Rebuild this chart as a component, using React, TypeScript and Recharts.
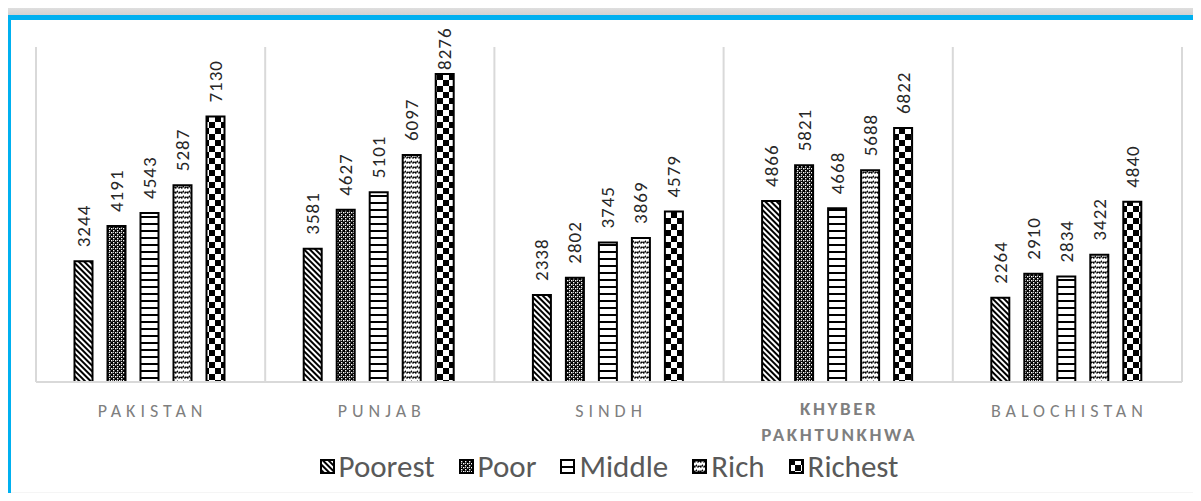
import React from 'react'
import { BarChart, Bar, XAxis, YAxis, CartesianGrid, Legend, LabelList } from 'recharts'

const regions = ['PAKISTAN', 'PUNJAB', 'SINDH', 'KHYBER PAKHTUNKHWA', 'BALOCHISTAN']
const poorest = [3244, 3581, 2338, 4866, 2264]
const poor = [4191, 4627, 2802, 5821, 2910]
const middle = [4543, 5101, 3745, 4668, 2834]
const rich = [5287, 6097, 3869, 5688, 3422]
const richest = [7130, 8276, 4579, 6822, 4840]

const seriesNames = ['Poorest', 'Poor', 'Middle', 'Rich', 'Richest']
const seriesKeys = ['poorest', 'poor', 'middle', 'rich', 'richest']

const data = regions.map((region, i) => ({
  region,
  poorest: poorest[i],
  poor: poor[i],
  middle: middle[i],
  rich: rich[i],
  richest: richest[i],
}))

const FONT = 'Carlito, Lato, "Open Sans", sans-serif'

function Patterns() {
  return (
    <defs>
      <pattern id="pat-poorest" width="4" height="4" patternUnits="userSpaceOnUse" patternTransform="rotate(-45)">
        <rect width="4" height="4" fill="#fff" />
        <rect width="2" height="4" fill="#000" />
      </pattern>
      <pattern id="pat-poor" width="4" height="4" patternUnits="userSpaceOnUse">
        <rect width="4" height="4" fill="#000" />
        <rect x="0" y="0" width="1.4" height="1.4" fill="#fff" />
        <rect x="2" y="2" width="1.4" height="1.4" fill="#fff" />
        <rect x="2" y="0" width="0.9" height="0.9" fill="#fff" />
      </pattern>
      <pattern id="pat-middle" width="8" height="7" patternUnits="userSpaceOnUse">
        <rect width="8" height="7" fill="#fff" />
        <rect width="8" height="2" fill="#000" />
      </pattern>
      <pattern id="pat-rich" width="6" height="5" patternUnits="userSpaceOnUse">
        <rect width="6" height="5" fill="#fff" />
        <path d="M0,3.2 L1.5,1.4 L3,3.2 L4.5,1.4 L6,3.2" stroke="#000" strokeWidth="1.4" fill="none" strokeDasharray="2 0.8" />
      </pattern>
      <pattern id="pat-richest" width="12" height="12" patternUnits="userSpaceOnUse">
        <rect width="12" height="12" fill="#fff" />
        <rect width="6" height="6" fill="#000" />
        <rect x="6" y="6" width="6" height="6" fill="#000" />
      </pattern>
    </defs>
  )
}

// rotated value label; pushed down onto the bar when it would run off the top
function ValueLabel(props: any) {
  const { x, y, width, value } = props
  const cx = x + width / 2
  const ty = Math.max(y - 14, 50)
  return (
    <text
      x={cx}
      y={ty}
      transform={`rotate(-90, ${cx}, ${ty})`}
      textAnchor="start"
      dominantBaseline="central"
      fontSize={19}
      fontFamily={FONT}
      fill="#262626"
      letterSpacing={1}
    >
      {value}
    </text>
  )
}

function RegionTick(props: any) {
  const { x, y, payload } = props
  const words: string[] = payload.value.split(' ')
  if (words.length > 1) {
    return (
      <text x={x} textAnchor="middle" fontSize={19} fontWeight="bold" fontFamily={FONT} fill="#7f7f7f" letterSpacing={2.6}>
        <tspan x={x + 1} y={y + 33}>{words[0]}</tspan>
        <tspan x={x + 1} y={y + 59}>{words.slice(1).join(' ')}</tspan>
      </text>
    )
  }
  return (
    <text x={x + 2} y={y + 35} textAnchor="middle" fontSize={18} fontFamily={FONT} fill="#7f7f7f" letterSpacing={5}>
      {payload.value}
    </text>
  )
}

function PatternLegend() {
  return (
    <div style={{ height: 40, display: 'flex', alignItems: 'center', justifyContent: 'center', gap: 24 }}>
      {seriesKeys.map((k, i) => (
        <div key={k} style={{ display: 'flex', alignItems: 'center' }}>
          <svg width={15} height={15} style={{ marginRight: 4 }}>
            <rect x={1} y={1} width={13} height={13} fill={`url(#pat-${k})`} stroke="#000" strokeWidth={2} />
          </svg>
          <span style={{ fontFamily: FONT, fontSize: 31, color: '#595959' }}>{seriesNames[i]}</span>
        </div>
      ))}
    </div>
  )
}

export default function App() {
  return (
    <div style={{ margin: -8, width: 1201, height: 501, position: 'relative', overflow: 'hidden',
      background: 'linear-gradient(#ececec, #d2d2d2 15px, #d9d9d9)' }}>
      {/* blue frame, open on the right */}
      <div style={{ position: 'absolute', left: 5, top: 15, right: 0, bottom: 0,
        borderLeft: '6px solid #00B0F0', borderTop: '5px solid #00B0F0', background: '#fff' }} />
      <div style={{ position: 'absolute', left: 11, top: 492, right: 0, bottom: 0,
        background: 'linear-gradient(#f6f6f6, #e4e4e4)' }} />

      <div style={{ position: 'absolute', left: 11, top: 20 }}>
        <BarChart
          width={1190}
          height={472}
          data={data}
          margin={{ top: 27, right: 19, left: 25, bottom: 6 }}
          barCategoryGap="16.8%"
          barGap={15}
        >
          <Patterns />
          <CartesianGrid
            horizontal={false}
            stroke="#d9d9d9"
            strokeWidth={2}
            verticalCoordinatesGenerator={({ offset }: any) =>
              regions.map((_, i) => offset.left + (i * offset.width) / regions.length)
                .concat(offset.left + offset.width)}
          />
          <XAxis
            dataKey="region"
            height={64}
            axisLine={{ stroke: '#d9d9d9', strokeWidth: 2 }}
            tickLine={false}
            tickSize={0}
            tickMargin={0}
            interval={0}
            tick={<RegionTick />}
          />
          <YAxis hide domain={[0, 9000]} />
          <Legend verticalAlign="bottom" content={<PatternLegend />} />
          {seriesKeys.map((k, i) => (
            <Bar key={k} dataKey={k} name={seriesNames[i]} fill={`url(#pat-${k})`}
              stroke="#000" strokeWidth={2} isAnimationActive={false}>
              <LabelList dataKey={k} content={<ValueLabel />} />
            </Bar>
          ))}
        </BarChart>
      </div>
    </div>
  )
}
